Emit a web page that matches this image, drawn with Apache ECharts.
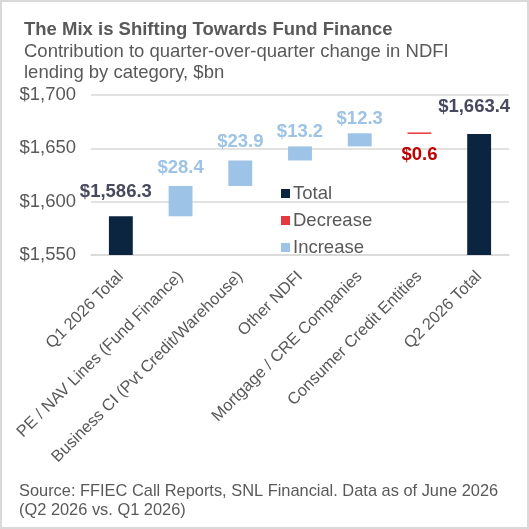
<!DOCTYPE html>
<html>
<head>
<meta charset="utf-8">
<script src="https://cdn.jsdelivr.net/npm/echarts@6/dist/echarts.min.js"></script>
<style>
  html, body { margin: 0; padding: 0; background: #fff; }
  #chart { width: 525px; height: 525px; border: 2px solid #d9d9d9; }
</style>
</head>
<body>
<div id="chart"></div>
<script>
var categories = ['Q1 2026 Total', 'PE / NAV Lines (Fund Finance)', 'Business CI (Pvt Credit/Warehouse)',
    'Other NDFI', 'Mortgage / CRE Companies', 'Consumer Credit Entities', 'Q2 2026 Total'];
var totals = [1586.3, null, null, null, null, null, 1663.4];
var changes = [null, 28.4, 23.9, 13.2, 12.3, -0.6, null];
var yTicks = [1550, 1600, 1650, 1700];

// label distance above / below each bar, tuned by eye
var labelGap = [15, 9, 9, 5, 5, 11, 18];

function money(v) {
    return '$' + Math.abs(v).toLocaleString('en-US', { minimumFractionDigits: 1, maximumFractionDigits: 1 });
}

// build waterfall pieces
var base = [], totalData = [], incData = [], decData = [];
var running = 0;
categories.forEach(function (c, i) {
    if (totals[i] != null) {
        running = totals[i];
        base.push(0);
        totalData.push({ value: totals[i], label: { distance: labelGap[i], offset: [-5, 0] } });
        incData.push('-');
        decData.push('-');
    } else if (changes[i] >= 0) {
        base.push(running);
        totalData.push('-');
        incData.push({ value: changes[i], label: { distance: labelGap[i] } });
        decData.push('-');
        running += changes[i];
    } else {
        running += changes[i];
        base.push(running);
        totalData.push('-');
        incData.push('-');
        decData.push({ value: -changes[i], label: { distance: labelGap[i] } });
    }
});

var font = 'Liberation Sans, Arial, sans-serif';
var myChart = echarts.init(document.getElementById('chart'));
myChart.setOption({
    animation: false,
    textStyle: { fontFamily: font },
    title: [{
        text: 'The Mix is Shifting Towards Fund Finance',
        subtext: 'Contribution to quarter-over-quarter change in NDFI\nlending by category, $bn',
        left: 17, top: 13, itemGap: 2,
        textStyle: { fontFamily: font, fontSize: 18.5, fontWeight: 'bold', color: '#595959' },
        subtextStyle: { fontFamily: font, fontSize: 18.5, color: '#595959', lineHeight: 21.5 }
    }, {
        text: 'Source: FFIEC Call Reports, SNL Financial. Data as of June 2026\n(Q2 2026 vs. Q1 2026)',
        left: 12, top: 475,
        textStyle: { fontFamily: font, fontSize: 16.4, fontWeight: 'normal', color: '#595959', lineHeight: 19 }
    }],
    legend: {
        data: ['Total', 'Decrease', 'Increase'],
        orient: 'vertical',
        left: 274, top: 177,
        itemWidth: 9, itemHeight: 9, itemGap: 8,
        icon: 'rect',
        textStyle: { fontFamily: font, fontSize: 18.5, color: '#595959', padding: [0, 0, 0, -2] }
    },
    grid: { left: 89, right: 18, top: 93, bottom: 272 },
    xAxis: {
        type: 'category',
        data: categories,
        axisLine: { lineStyle: { color: '#d9d9d9', width: 1.5 } },
        axisTick: { show: false },
        axisLabel: { rotate: 45, interval: 0, fontSize: 16.4, color: '#595959', margin: 19 }
    },
    yAxis: {
        type: 'value',
        min: yTicks[0], max: yTicks[yTicks.length - 1], interval: 50,
        axisLine: { show: false },
        axisTick: { show: false },
        splitLine: { lineStyle: { color: '#d9d9d9', width: 1.5 } },
        axisLabel: {
            fontSize: 18.5, color: '#595959', margin: 15,
            formatter: function (v) { return '$' + v.toLocaleString('en-US'); }
        }
    },
    series: [{
        name: 'base', type: 'bar', stack: 'w', data: base, silent: true,
        barCategoryGap: '60%',
        itemStyle: { color: 'transparent' }
    }, {
        name: 'Total', type: 'bar', stack: 'w', data: totalData,
        itemStyle: { color: '#0b2440' },
        label: { show: true, position: 'top', fontSize: 18.5, fontWeight: 'bold', color: '#474a5e',
            formatter: function (p) { return money(p.value); } }
    }, {
        name: 'Decrease', type: 'bar', stack: 'w', data: decData, barMinHeight: 1.5,
        itemStyle: { color: '#e8383f' },
        label: { show: true, position: 'bottom', fontSize: 18.5, fontWeight: 'bold', color: '#c00000',
            formatter: function (p) { return money(p.value); } }
    }, {
        name: 'Increase', type: 'bar', stack: 'w', data: incData,
        itemStyle: { color: '#9dc3e6' },
        label: { show: true, position: 'top', fontSize: 18.5, fontWeight: 'bold', color: '#9dc3e6',
            formatter: function (p) { return money(p.value); } }
    }]
});

window.addEventListener('resize', function () {
    myChart.resize();
});
</script>
</body>
</html>
